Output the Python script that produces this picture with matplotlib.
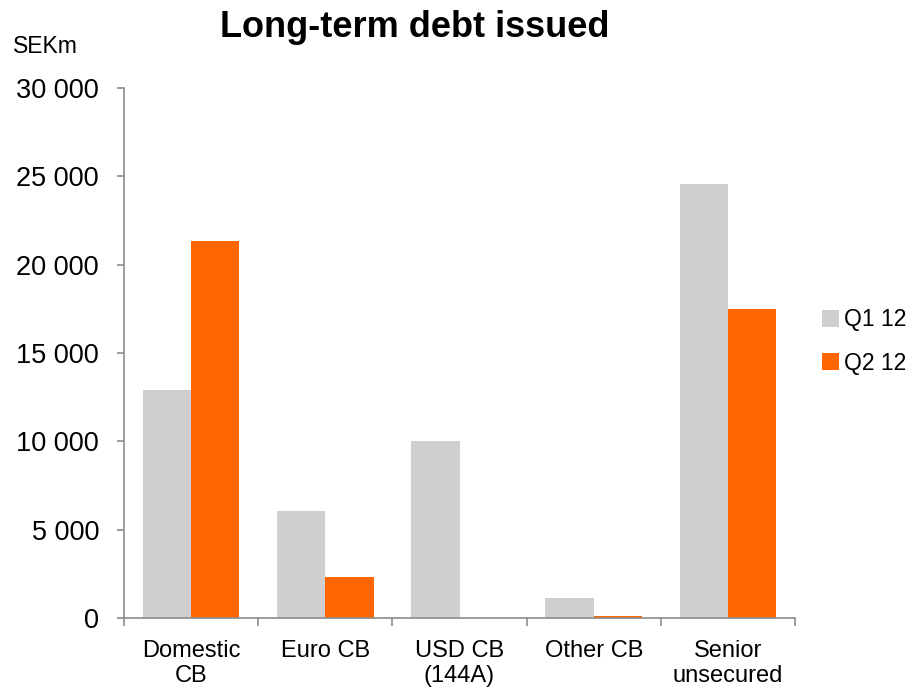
import numpy as np
import matplotlib.pyplot as plt
from matplotlib.ticker import FuncFormatter

plt.rcParams['font.family'] = ['Liberation Sans', 'DejaVu Sans']

# data (SEKm)
categories = ["Domestic\nCB", "Euro CB", "USD CB\n(144A)", "Other CB", "Senior\nunsecured"]
q1_12 = [12900, 6050, 10000, 1150, 24600]
q2_12 = [21350, 2350, 0, 100, 17500]
series_names = ["Q1 12", "Q2 12"]

grey = "#d0cfcd"
orange = "#ff6600"
axis_col = "#8c8c8c"

fig = plt.figure(figsize=(9.08, 6.89), dpi=100)
ax = fig.add_axes([0.1366, 0.103, 0.739, 0.769])

x = np.arange(len(categories))
w = 0.36
ax.bar(x - w / 2, q1_12, w, color=grey, label=series_names[0])
ax.bar(x + w / 2, q2_12, w, color=orange, label=series_names[1])

ax.set_xlim(-0.5, len(categories) - 0.5)
ax.set_ylim(0, 30000)
ax.set_yticks(np.arange(0, 30001, 5000))
ax.yaxis.set_major_formatter(FuncFormatter(lambda v, p: f"{int(v):,}".replace(",", " ")))

ax.set_xticks(x)
ax.set_xticklabels(categories, fontsize=17, linespacing=1.15)
ax.set_xticks(np.arange(-0.5, len(categories)), minor=True)
ax.tick_params(axis='x', which='major', length=0, pad=16)
ax.tick_params(axis='x', which='minor', length=6, color=axis_col, width=1.2)
ax.tick_params(axis='y', length=5, color=axis_col, width=1.2, labelsize=19.5, pad=13)

for s in ['top', 'right']:
    ax.spines[s].set_visible(False)
for s in ['left', 'bottom']:
    ax.spines[s].set_color(axis_col)
    ax.spines[s].set_linewidth(1.2)

fig.text(0.457, 0.96, "Long-term debt issued", ha='center', va='center',
         fontsize=26, fontweight='bold')
fig.text(0.0496, 0.932, "SEKm", ha='center', va='center', fontsize=16.5)

ax.legend(loc='center left', bbox_to_anchor=(1.016, 0.522), frameon=False,
          fontsize=16.5, handlelength=0.75, handleheight=0.75, handletextpad=0.2,
          labelspacing=0.9, borderaxespad=0.3)

fig.savefig("out.png", dpi=100)
